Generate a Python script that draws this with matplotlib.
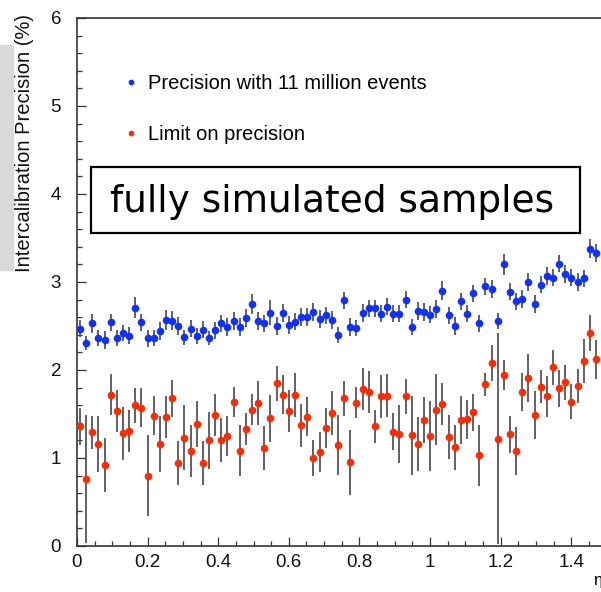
import matplotlib
matplotlib.use('Agg')
import matplotlib.pyplot as plt
import numpy as np
from matplotlib.patches import Rectangle
from matplotlib.ticker import MultipleLocator

plt.rcParams['font.family'] = ['Liberation Sans', 'DejaVu Sans']

# crystal index along eta, one bin = 0.0174
ieta = np.arange(1, 86)
eta = (ieta - 0.5) * 0.0174

prec = [2.47, 2.31, 2.53, 2.36, 2.34, 2.54, 2.36, 2.42, 2.39, 2.71,
        2.54, 2.36, 2.36, 2.44, 2.57, 2.56, 2.50, 2.37, 2.47, 2.39,
        2.46, 2.36, 2.45, 2.53, 2.49, 2.56, 2.49, 2.59, 2.75, 2.56,
        2.53, 2.65, 2.50, 2.65, 2.51, 2.55, 2.60, 2.60, 2.66, 2.58,
        2.62, 2.57, 2.40, 2.79, 2.49, 2.48, 2.65, 2.70, 2.70, 2.64,
        2.72, 2.64, 2.64, 2.80, 2.49, 2.67, 2.66, 2.63, 2.69, 2.90,
        2.62, 2.50, 2.78, 2.64, 2.87, 2.53, 2.95, 2.92, 2.56, 3.20,
        2.89, 2.78, 2.81, 3.00, 2.75, 2.97, 3.07, 3.05, 3.21, 3.09,
        3.05, 3.00, 3.04, 3.38, 3.33]
prec_err = [0.10, 0.08, 0.11, 0.09, 0.10, 0.10, 0.09, 0.09, 0.10, 0.12,
            0.10, 0.10, 0.09, 0.10, 0.11, 0.11, 0.10, 0.09, 0.10, 0.09,
            0.10, 0.08, 0.10, 0.10, 0.10, 0.10, 0.10, 0.10, 0.11, 0.10,
            0.10, 0.14, 0.10, 0.10, 0.10, 0.10, 0.10, 0.10, 0.10, 0.10,
            0.10, 0.10, 0.09, 0.10, 0.10, 0.09, 0.10, 0.10, 0.10, 0.10,
            0.10, 0.10, 0.10, 0.10, 0.09, 0.10, 0.10, 0.10, 0.10, 0.11,
            0.10, 0.10, 0.10, 0.10, 0.10, 0.10, 0.10, 0.10, 0.09, 0.12,
            0.10, 0.10, 0.10, 0.10, 0.10, 0.10, 0.10, 0.10, 0.10, 0.10,
            0.10, 0.10, 0.10, 0.11, 0.10]

limit = [1.36, 0.76, 1.29, 1.16, 0.92, 1.72, 1.53, 1.28, 1.31, 1.60,
         1.57, 0.80, 1.48, 1.16, 1.47, 1.68, 0.94, 1.23, 1.08, 1.39,
         0.94, 1.20, 1.49, 1.20, 1.25, 1.64, 1.08, 1.33, 1.55, 1.62,
         1.11, 1.45, 1.85, 1.72, 1.53, 1.72, 1.37, 1.47, 1.00, 1.07,
         1.34, 1.51, 1.15, 1.68, 0.95, 1.63, 1.78, 1.75, 1.36, 1.70,
         1.71, 1.30, 1.27, 1.70, 1.26, 1.16, 1.43, 1.25, 1.55, 1.61,
         1.24, 1.12, 1.43, 1.44, 1.52, 1.03, 1.84, 2.08, 1.22, 1.94,
         1.27, 1.08, 1.75, 1.91, 1.49, 1.81, 1.70, 2.03, 1.79, 1.86,
         1.64, 1.82, 2.10, 2.42, 2.12]
limit_err = [0.21, 0.73, 0.19, 0.32, 0.31, 0.23, 0.24, 0.30, 0.24, 0.20,
             0.22, 0.46, 0.22, 0.32, 0.24, 0.21, 0.25, 0.37, 0.30, 0.26,
             0.25, 0.32, 0.24, 0.25, 0.23, 0.17, 0.29, 0.18, 0.18, 0.25,
             0.25, 0.27, 0.20, 0.22, 0.24, 0.25, 0.24, 0.22, 0.20, 0.23,
             0.23, 0.25, 0.34, 0.20, 0.37, 0.18, 0.24, 0.24, 0.19, 0.24,
             0.24, 0.21, 0.33, 0.20, 0.45, 0.31, 0.26, 0.40, 0.40, 0.24,
             0.25, 0.26, 0.27, 0.22, 0.21, 0.35, 0.13, 0.20, 1.20, 0.17,
             0.21, 0.27, 0.22, 0.27, 0.27, 0.19, 0.23, 0.20, 0.21, 0.20,
             0.20, 0.19, 0.25, 0.20, 0.22]

blue = '#1030ff'
red = '#ff2a00'
barcol = '#555555'

fig = plt.figure(figsize=(6.01, 5.92), dpi=100)
# grey strip on the left edge
fig.patches.append(Rectangle((0, 1 - 270 / 592), 13 / 601, 225 / 592,
                             transform=fig.transFigure, color='#d9d9d9', zorder=0))

ax = fig.add_axes([77 / 601, 1 - 546 / 592, 540 / 601, 528 / 592])
ax.errorbar(eta, prec, yerr=prec_err, fmt='none', ecolor=barcol, elinewidth=1.3, zorder=2)
ax.errorbar(eta, limit, yerr=limit_err, fmt='none', ecolor=barcol, elinewidth=1.3, zorder=2)
ax.plot(eta, prec, 'o', color=blue, ms=5.5, mew=0, zorder=3, label='Precision with 11 million events')
ax.plot(eta, limit, 'o', color=red, ms=5.5, mew=0, zorder=3, label='Limit on precision')

ax.set_xlim(0, 540 / 353)
ax.set_ylim(0, 6)
ax.xaxis.set_major_locator(MultipleLocator(0.2))
ax.xaxis.set_minor_locator(MultipleLocator(0.05))
ax.yaxis.set_major_locator(MultipleLocator(1))
ax.yaxis.set_minor_locator(MultipleLocator(0.2))
ax.set_xticks([0, 0.2, 0.4, 0.6, 0.8, 1.0, 1.2, 1.4])
ax.set_xticklabels(['0', '0.2', '0.4', '0.6', '0.8', '1', '1.2', '1.4'])
ax.tick_params(which='both', direction='in', top=False, right=False, color='#333333', width=0.9)
ax.tick_params(which='major', length=6.5, labelsize=13.5, labelcolor='#111111')
ax.tick_params(axis='x', which='major', pad=6)
ax.tick_params(axis='y', which='major', pad=11.5)
ax.tick_params(which='minor', length=3.5)
for s in ax.spines.values():
    s.set_color('#333333')
    s.set_linewidth(1.2)

fig.text(25 / 601, 1 - 143 / 592, 'Intercalibration Precision (%)', rotation=90,
         ha='center', va='center', fontsize=14.5, color='#111111')
fig.text(593 / 601, 1 - 581 / 592, 'η', ha='left', va='center', fontsize=12)

ax.legend(loc='upper left', bbox_to_anchor=(115 / 601, 1 - 66 / 592),
          bbox_transform=fig.transFigure, frameon=False, fontsize=14.5,
          markerscale=0.75, handlelength=0.8, handletextpad=0.45,
          labelspacing=1.6, borderaxespad=0)

# "fully simulated samples" box
fig.patches.append(Rectangle((91 / 601, 1 - 233 / 592), 489 / 601, 66 / 592,
                             transform=fig.transFigure, facecolor='white',
                             edgecolor='black', linewidth=1.6, zorder=5))
fig.text(332 / 601, 1 - 202 / 592, 'fully simulated samples', ha='center', va='center',
         fontsize=27, family='DejaVu Sans', zorder=6)

plt.savefig('out.png', dpi=100)
